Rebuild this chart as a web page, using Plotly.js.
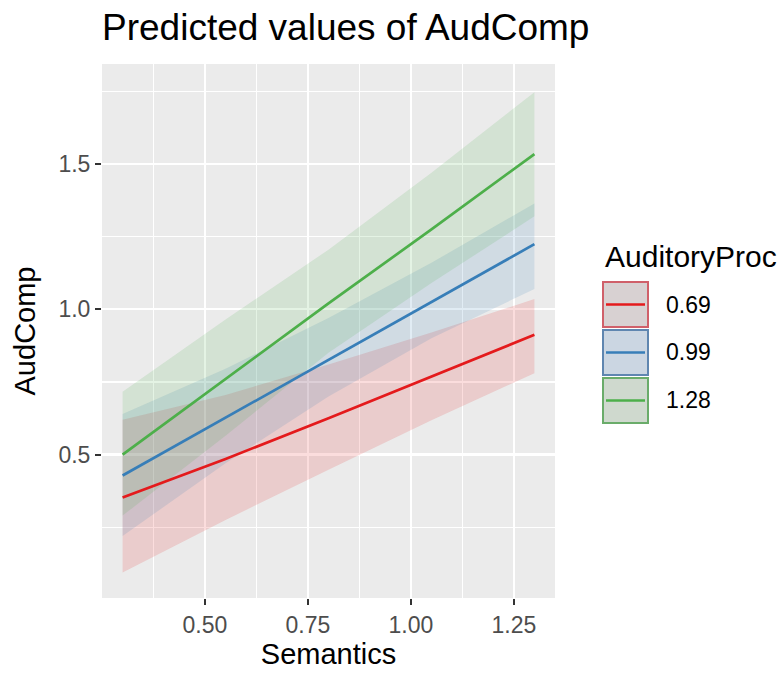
<!DOCTYPE html>
<html>
<head>
<meta charset="utf-8">
<script src="https://cdn.plot.ly/plotly-3.0.1.min.js"></script>
<style>html,body{margin:0;padding:0;background:#fff;}#chart{width:782px;height:673px;}</style>
</head>
<body>
<div id="chart"></div>
<script>
// ---- data ----
const semantics = [0.3, 0.55, 0.8, 1.05, 1.3];
const groups = ["0.69", "0.99", "1.28"];
const predicted = {
  "0.69": [0.352, 0.485, 0.625, 0.768, 0.912],
  "0.99": [0.428, 0.627, 0.826, 1.025, 1.224],
  "1.28": [0.500, 0.760, 1.020, 1.275, 1.534]
};
const lower = {
  "0.69": [0.094, 0.275, 0.448, 0.618, 0.780],
  "0.99": [0.220, 0.470, 0.700, 0.900, 1.070],
  "1.28": [0.290, 0.565, 0.850, 1.090, 1.320]
};
const upper = {
  "0.69": [0.620, 0.705, 0.810, 0.920, 1.035],
  "0.99": [0.640, 0.795, 0.970, 1.160, 1.364],
  "1.28": [0.716, 0.965, 1.205, 1.470, 1.747]
};
const xTicks = [0.50, 0.75, 1.00, 1.25];
const xTickText = ["0.50", "0.75", "1.00", "1.25"];
const yTicks = [0.5, 1.0, 1.5];
const yTickText = ["0.5", "1.0", "1.5"];

// ---- styles ----
const colors = {"0.69": "#E41A1C", "0.99": "#377EB8", "1.28": "#4DAF4A"};
const fills = {"0.69": "rgba(228,26,28,0.15)", "0.99": "rgba(55,126,184,0.15)", "1.28": "rgba(77,175,74,0.15)"};
const keyFill = {"0.69": "#d8d1d2", "0.99": "#cbd6e2", "1.28": "#cfd9ce"};
const keyBorder = {"0.69": "#d0606a", "0.99": "#5f86b0", "1.28": "#6aac6a"};
const FONT = "Liberation Sans, Arial, sans-serif";

const traces = [];
groups.forEach(g => {
  traces.push({
    x: semantics.concat(semantics.slice().reverse()),
    y: lower[g].concat(upper[g].slice().reverse()),
    type: "scatter", mode: "lines", fill: "toself",
    fillcolor: fills[g], line: {width: 0}, hoverinfo: "skip", showlegend: false
  });
});
groups.forEach(g => {
  traces.push({
    x: semantics, y: predicted[g], type: "scatter", mode: "lines",
    line: {color: colors[g], width: 2.7}, name: g, showlegend: false
  });
});

// plot area pixel geometry
const L = 102, R = 555, T = 64, B = 598;
const X = p => (p - L) / (R - L);
const Y = p => (B - p) / (B - T);

const shapes = [];
const annotations = [];
annotations.push({xref: "paper", yref: "paper", x: X(603), y: Y(256), xanchor: "left", yanchor: "middle",
  text: "AuditoryProc", showarrow: false, font: {family: FONT, size: 30, color: "#000"}});
const keyTops = [282, 330, 378];
groups.forEach((g, i) => {
  const t = keyTops[i], b = t + 45;
  shapes.push({type: "rect", xref: "paper", yref: "paper", x0: X(603), x1: X(648), y0: Y(b), y1: Y(t),
    fillcolor: keyFill[g], line: {color: keyBorder[g], width: 2}});
  shapes.push({type: "line", xref: "paper", yref: "paper", x0: X(606), x1: X(645), y0: Y((t + b) / 2), y1: Y((t + b) / 2),
    line: {color: colors[g], width: 2.7}});
  annotations.push({xref: "paper", yref: "paper", x: X(664), y: Y((t + b) / 2), xanchor: "left", yanchor: "middle",
    text: g, showarrow: false, font: {family: FONT, size: 23, color: "#000"}});
});

const layout = {
  width: 782, height: 673,
  margin: {l: L, r: 782 - R, t: T, b: 673 - B, pad: 0},
  paper_bgcolor: "#ffffff", plot_bgcolor: "#EBEBEB",
  showlegend: false,
  font: {family: FONT},
  title: {text: "Predicted values of AudComp", x: 0, xref: "paper", xanchor: "left",
    y: 1 - 27 / 673, yref: "container", yanchor: "middle",
    font: {family: FONT, size: 37, color: "#000"}},
  xaxis: {
    range: [0.25, 1.35], tickvals: xTicks, ticktext: xTickText,
    showgrid: true, gridcolor: "#ffffff", gridwidth: 2.4, zeroline: false, showline: false,
    ticks: "outside", ticklen: 6, tickwidth: 2, tickcolor: "#333333",
    tickfont: {family: FONT, size: 23, color: "#4D4D4D"},
    minor: {dtick: 0.125, tick0: 0, showgrid: true, gridcolor: "#ffffff", gridwidth: 1.2, ticks: ""},
    title: {text: "Semantics", font: {family: FONT, size: 29, color: "#000"}, standoff: 6}
  },
  yaxis: {
    range: [0.0065, 1.844], tickvals: yTicks, ticktext: yTickText,
    showgrid: true, gridcolor: "#ffffff", gridwidth: 2.4, zeroline: false, showline: false,
    ticks: "outside", ticklen: 6, tickwidth: 2, tickcolor: "#333333",
    tickfont: {family: FONT, size: 23, color: "#4D4D4D"},
    minor: {dtick: 0.25, tick0: 0, showgrid: true, gridcolor: "#ffffff", gridwidth: 1.2, ticks: ""},
    title: {text: "AudComp", font: {family: FONT, size: 29, color: "#000"}, standoff: 14}
  },
  shapes: shapes,
  annotations: annotations
};

Plotly.newPlot("chart", traces, layout, {displayModeBar: false, staticPlot: true});
</script>
</body>
</html>
